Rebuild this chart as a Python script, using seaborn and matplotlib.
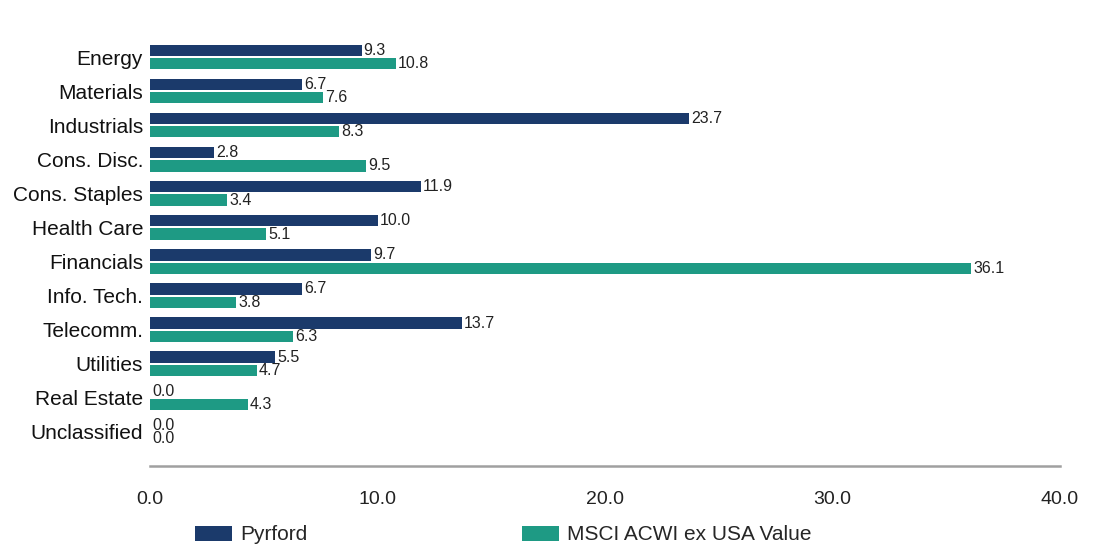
import matplotlib
matplotlib.use("Agg")
import matplotlib.pyplot as plt
import seaborn as sns
import pandas as pd

categories = ["Energy", "Materials", "Industrials", "Cons. Disc.", "Cons. Staples",
              "Health Care", "Financials", "Info. Tech.", "Telecomm.", "Utilities",
              "Real Estate", "Unclassified"]
pyrford = [9.3, 6.7, 23.7, 2.8, 11.9, 10.0, 9.7, 6.7, 13.7, 5.5, 0.0, 0.0]
msci = [10.8, 7.6, 8.3, 9.5, 3.4, 5.1, 36.1, 3.8, 6.3, 4.7, 4.3, 0.0]
series_names = ["Pyrford", "MSCI ACWI ex USA Value"]
x_ticks = [0, 10, 20, 30, 40]

df = pd.DataFrame({
    "Sector": categories * 2,
    "Value": pyrford + msci,
    "Series": [series_names[0]] * len(categories) + [series_names[1]] * len(categories),
})

sns.set_theme(style="white")
plt.rcParams["font.family"] = ["Liberation Sans", "DejaVu Sans"]

fig = plt.figure(figsize=(10.99, 5.46), dpi=100)
ax = fig.add_axes([150 / 1099, 80 / 546, 910 / 1099, 426 / 546])

palette = {series_names[0]: "#1B3A6B", series_names[1]: "#1E9A84"}
sns.barplot(data=df, y="Sector", x="Value", hue="Series", orient="h",
            palette=palette, width=0.78, gap=0.15, ax=ax, saturation=1,
            order=categories, hue_order=series_names, errorbar=None, linewidth=0)

for cont in ax.containers:
    ax.bar_label(cont, fmt="{:.1f}", padding=1.5, fontsize=11.5, color="#222222")

ax.set_xlim(0, 40)
ax.set_ylim(12.0, -0.5)
ax.set_xticks(x_ticks)
ax.set_xticklabels([f"{t:.1f}" for t in x_ticks], fontsize=14, color="#222222")
ax.tick_params(axis="x", length=0, pad=18)
ax.tick_params(axis="y", length=0, pad=5, labelsize=15, labelcolor="#111111")
ax.set_xlabel("")
ax.set_ylabel("")
for s in ["top", "right", "left"]:
    ax.spines[s].set_visible(False)
ax.spines["bottom"].set_color("#a0a0a0")
ax.spines["bottom"].set_linewidth(1.8)

handles, labels = ax.get_legend_handles_labels()
ax.get_legend().remove()
fig.legend(handles, labels, loc="center left", bbox_to_anchor=(195 / 1099, 1 - 535 / 546),
           ncol=2, frameon=False, fontsize=15, handlelength=1.78, handleheight=0.72,
           handletextpad=0.38, columnspacing=10.3, borderpad=0, borderaxespad=0)

fig.savefig("out.png", dpi=100)
